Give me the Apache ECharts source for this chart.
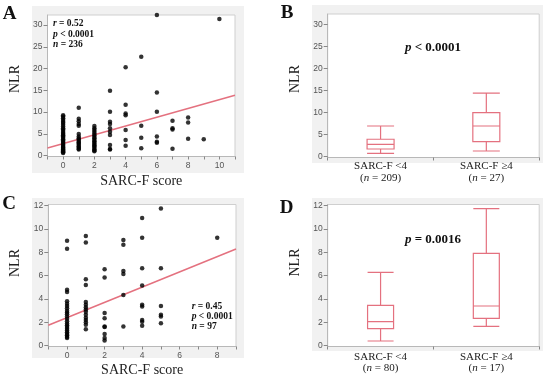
<!DOCTYPE html>
<html><head><meta charset="utf-8">
<script src="https://cdn.jsdelivr.net/npm/echarts@6/dist/echarts.min.js"></script>
<style>html,body{margin:0;padding:0;background:#fff}#c{width:550px;height:378px}</style>
</head><body><div id="c"></div>
<script>
// ---- Panel A: SARC-F score vs NLR (n = 236)
const scatterA = [
  [0,9.3],[0,9.0],[0,8.6],[0,8.2],[0,7.8],[0,7.5],[0,7.1],[0,6.7],[0,6.3],[0,6.0],[0,5.7],[0,5.3],[0,5.0],[0,4.7],[0,4.4],[0,4.1],[0,3.8],[0,3.5],[0,3.2],[0,2.9],[0,2.6],[0,2.3],[0,2.0],[0,1.8],[0,1.6],[0,1.4],[0,1.2],[0,1.0],[0,0.8],[0,0.6],
  [1,11.0],[1,8.5],[1,7.9],[1,7.3],[1,6.9],[1,5.0],[1,4.4],[1,4.0],[1,3.7],[1,3.4],[1,3.1],[1,2.8],[1,2.5],[1,2.2],[1,1.9],[1,1.6],[1,1.4],
  [2,6.8],[2,6.3],[2,5.9],[2,5.5],[2,5.1],[2,4.7],[2,4.3],[2,4.0],[2,3.6],[2,3.3],[2,3.0],[2,2.7],[2,2.4],[2,2.1],[2,1.8],[2,1.5],[2,1.2],[2,1.0],
  [3,14.9],[3,10.1],[3,7.8],[3,7.3],[3,6.3],[3,5.5],[3,4.75],[3,2.45],[3,1.55],[3,1.4],
  [4,20.3],[4,11.7],[4,9.7],[4,9.3],[4,5.9],[4,3.6],[4,2.3],
  [5,22.7],[5,6.9],[5,4.1],[5,1.7],
  [6,32.3],[6,14.5],[6,10.1],[6,4.4],[6,3.2],[6,3.0],
  [7,8.0],[7,6.3],[7,6.0],[7,1.6],
  [8,8.8],[8,7.6],[8,3.9],
  [9,3.8],
  [10,31.4]
];
const fitA = [[-1,1.75],[11,13.9]];
const statsA = ['0.52','0.0001','236'];

// ---- Panel B: NLR by SARC-F group (all)
const groupsB = ['SARC-F <4','SARC-F \u22654'];
const nB = [209, 27];
const boxB = [[0.77,1.75,2.81,3.95,6.96],[1.29,3.4,6.96,9.98,14.4]];
const pB = '< 0.0001';

// ---- Panel C: SARC-F score vs NLR (n = 97)
const scatterC = [
  [0,9.0],[0,8.3],[0,4.8],[0,4.6],[0,3.8],[0,3.6],[0,3.4],[0,3.2],[0,3.0],[0,2.85],[0,2.7],[0,2.5],[0,2.3],[0,2.1],[0,1.9],[0,1.75],[0,1.6],[0,1.45],[0,1.3],[0,1.15],[0,1.0],[0,0.9],[0,0.75],[0,0.65],
  [1,9.4],[1,8.85],[1,5.7],[1,5.2],[1,3.75],[1,3.5],[1,3.3],[1,3.1],[1,2.9],[1,2.65],[1,2.4],[1,2.2],[1,2.0],[1,1.8],[1,1.4],
  [2,6.55],[2,5.85],[2,2.8],[2,2.35],[2,1.65],[2,1.6],[2,1.0],[2,0.65],[2,0.45],
  [3,9.05],[3,8.65],[3,6.4],[3,6.15],[3,4.35],[3,1.65],
  [4,10.95],[4,9.25],[4,6.63],[4,5.15],[4,3.5],[4,3.35],[4,2.2],[4,2.05],[4,1.7],
  [5,11.75],[5,6.63],[5,3.4],[5,2.65],[5,2.5],[5,1.92],
  [8,9.25]
];
const fitC = [[-1,1.75],[9,8.29]];
const statsC = ['0.45','0.0001','97'];

// ---- Panel D: NLR by SARC-F group (subset)
const groupsD = ['SARC-F <4','SARC-F \u22654'];
const nD = [80, 17];
const boxD = [[0.4,1.46,2.06,3.46,6.29],[1.66,2.34,3.4,7.91,11.74]];
const pD = '= 0.0016';

// ---- tick values
const yTicksAB = [0,5,10,15,20,25,30];
const yTicksCD = [0,2,4,6,8,10,12];

const SERIF = 'Liberation Serif';
const SANS = 'Liberation Sans';
const PINK = '#e4717f';
const TICKC = '#555';

function yAxisCfg(idx, min, max, ticks) {
  return {
    type: 'value', gridIndex: idx, min: min, max: max,
    splitLine: {show: false},
    axisLine: {show: true, onZero: false, lineStyle: {color: '#b8b8b8'}},
    axisTick: {show: true, length: 4, lineStyle: {color: '#888'}, customValues: ticks},
    axisLabel: {color: TICKC, fontFamily: SANS, fontSize: 8.5, margin: 5, customValues: ticks,
      formatter: v => ticks.indexOf(v) >= 0 ? String(v) : ''}
  };
}
function xValueCfg(idx, min, max, gap) {
  return {
    type: 'value', gridIndex: idx, min: min, max: max, interval: 1,
    splitLine: {show: false},
    axisLine: {show: true, onZero: false, lineStyle: {color: '#b8b8b8'}},
    axisTick: {show: true, length: 3, lineStyle: {color: '#888'}},
    axisLabel: {color: TICKC, fontFamily: SANS, fontSize: 8.5, margin: 5, showMinLabel: true, showMaxLabel: true,
      formatter: v => (v >= 0 && v % 2 === 0 && v < max) ? String(v) : ''},
    name: 'SARC-F score', nameLocation: 'middle', nameGap: gap,
    nameTextStyle: {fontFamily: SERIF, fontSize: 14, color: '#222'}
  };
}
function xCatCfg(idx, cats, ns, margin, lh) {
  return {
    type: 'category', gridIndex: idx, data: cats,
    axisLine: {show: true, onZero: false, lineStyle: {color: '#b8b8b8'}},
    axisTick: {show: true, length: 3, lineStyle: {color: '#888'}},
    axisLabel: {margin: margin, interval: 0,
      formatter: (v, i) => '{a|' + v + '}\n{a|(}{i|n}{a| = ' + ns[i] + ')}',
      rich: {
        a: {fontFamily: SERIF, fontSize: 11, color: '#222', lineHeight: lh},
        i: {fontFamily: SERIF, fontSize: 11, fontStyle: 'italic', color: '#222', lineHeight: lh}
      }}
  };
}

const richStat = (fs, lh) => ({
  i: {fontFamily: SERIF, fontSize: fs, fontWeight: 'bold', fontStyle: 'italic', fill: '#111', lineHeight: lh},
  b: {fontFamily: SERIF, fontSize: fs, fontWeight: 'bold', fill: '#111', lineHeight: lh}
});

function bgRect(x, y, w, h) {
  return {type: 'rect', z: -10, silent: true, shape: {x: x, y: y, width: w, height: h}, style: {fill: '#f1f1f1'}};
}
function letter(t, x, y) {
  return {type: 'text', z: 10, x: x, y: y, style: {text: t, fontFamily: SERIF, fontSize: 19, fontWeight: 'bold', fill: '#111', align: 'center', verticalAlign: 'middle'}};
}
function nlr(x, y) {
  return {type: 'text', z: 10, x: x, y: y, rotation: Math.PI / 2, style: {text: 'NLR', fontFamily: SERIF, fontSize: 14, fill: '#222', align: 'center', verticalAlign: 'middle'}};
}

const chart = echarts.init(document.getElementById('c'), null, {renderer: 'canvas'});
chart.setOption({
  animation: false,
  backgroundColor: '#fff',
  grid: [
    {left: 47.5, top: 15, width: 187.5, height: 141.5, show: true, backgroundColor: '#fff', borderColor: '#cfcfcf', borderWidth: 1},
    {left: 327.7, top: 14, width: 211.5, height: 143.5, show: true, backgroundColor: '#fff', borderColor: '#cfcfcf', borderWidth: 1},
    {left: 48.3, top: 204.5, width: 187.7, height: 142, show: true, backgroundColor: '#fff', borderColor: '#cfcfcf', borderWidth: 1},
    {left: 327.7, top: 204.5, width: 211.5, height: 142, show: true, backgroundColor: '#fff', borderColor: '#cfcfcf', borderWidth: 1}
  ],
  xAxis: [
    xValueCfg(0, -1, 11, 18),
    xCatCfg(1, groupsB, nB, 3, 12),
    xValueCfg(2, -1, 9, 16.5),
    xCatCfg(3, groupsD, nD, 5, 11)
  ],
  yAxis: [
    yAxisCfg(0, -0.18, 32.3, yTicksAB),
    yAxisCfg(1, -0.18, 32.33, yTicksAB),
    yAxisCfg(2, -0.07, 12.1, yTicksCD),
    yAxisCfg(3, -0.07, 12.1, yTicksCD)
  ],
  series: [
    {type: 'line', xAxisIndex: 0, yAxisIndex: 0, data: fitA, symbol: 'none', lineStyle: {color: PINK, width: 1.5}, z: 2},
    {type: 'scatter', xAxisIndex: 0, yAxisIndex: 0, data: scatterA, symbolSize: 4.5, itemStyle: {color: '#000'}, z: 3},
    {type: 'boxplot', xAxisIndex: 1, yAxisIndex: 1, data: boxB, boxWidth: [27, 27],
      itemStyle: {color: 'rgba(255,255,255,0)', borderColor: PINK, borderWidth: 1.2}},
    {type: 'line', xAxisIndex: 2, yAxisIndex: 2, data: fitC, symbol: 'none', lineStyle: {color: PINK, width: 1.5}, z: 2},
    {type: 'scatter', xAxisIndex: 2, yAxisIndex: 2, data: scatterC, symbolSize: 4.5, itemStyle: {color: '#000'}, z: 3},
    {type: 'boxplot', xAxisIndex: 3, yAxisIndex: 3, data: boxD, boxWidth: [26, 26],
      itemStyle: {color: 'rgba(255,255,255,0)', borderColor: PINK, borderWidth: 1.2}}
  ],
  graphic: [
    bgRect(32, 6, 212, 167),
    bgRect(312, 5, 231, 158),
    bgRect(32, 198, 212, 160),
    bgRect(312, 198, 231, 153),
    letter('A', 9.5, 14),
    letter('B', 287, 13.5),
    letter('C', 9, 204.5),
    letter('D', 286.5, 208.5),
    nlr(15, 79),
    nlr(295, 79),
    nlr(15, 263),
    nlr(295, 262.5),
    {type: 'text', z: 10, x: 53, y: 18.75, style: {
      text: '{i|r}{b| = ' + statsA[0] + '}\n{i|p}{b| < ' + statsA[1] + '}\n{i|n}{b| = ' + statsA[2] + '}',
      rich: richStat(9.5, 10.5), align: 'left', verticalAlign: 'top'}},
    {type: 'text', z: 10, x: 191.7, y: 301.7, style: {
      text: '{i|r}{b| = ' + statsC[0] + '}\n{i|p}{b| < ' + statsC[1] + '}\n{i|n}{b| = ' + statsC[2] + '}',
      rich: richStat(9.5, 10), align: 'left', verticalAlign: 'top'}},
    {type: 'text', z: 10, x: 433, y: 48, style: {
      text: '{i|p}{b| ' + pB + '}', rich: richStat(13, 15), align: 'center', verticalAlign: 'middle'}},
    {type: 'text', z: 10, x: 433, y: 240, style: {
      text: '{i|p}{b| ' + pD + '}', rich: richStat(13, 15), align: 'center', verticalAlign: 'middle'}}
  ]
});
</script>
</body></html>
